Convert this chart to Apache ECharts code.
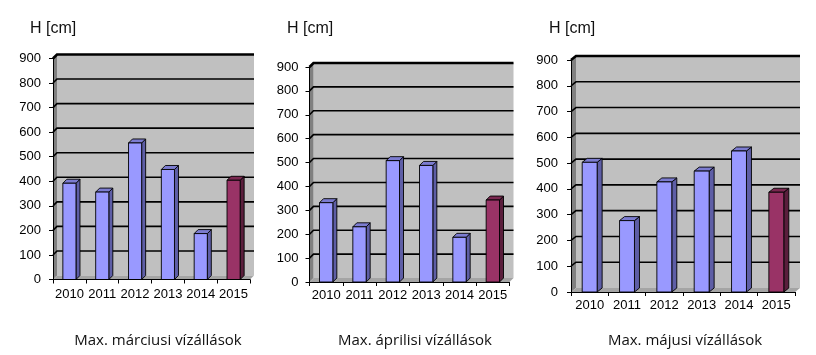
<!DOCTYPE html>
<html>
<head>
<meta charset="utf-8">
<script src="https://cdn.jsdelivr.net/npm/echarts@6/dist/echarts.min.js"></script>
<style>
html,body{margin:0;padding:0;background:#fff;}
#c{width:816px;height:355px;}
</style>
</head>
<body>
<div id="c"></div>
<script>
const years = ['2010', '2011', '2012', '2013', '2014', '2015'];
const marchValues = [392, 356, 556, 448, 187, 404];
const aprilValues = [332, 231, 508, 488, 187, 343];
const mayValues = [503, 277, 427, 469, 547, 387];
const yTicks = [0, 100, 200, 300, 400, 500, 600, 700, 800, 900];
const captions = ['Max. márciusi vízállások', 'Max. áprilisi vízállások', 'Max. májusi vízállások'];
const unitLabel = 'H [cm]';
const highlightIndex = 5;

const panels = [
  {values: marchValues, grid: {left: 53, top: 58.5, width: 197, height: 221}, depth: [4, -4], yMargin: 12, xMargin: 8, unitX: 25, capX: 153},
  {values: aprilValues, grid: {left: 309.5, top: 67, width: 200, height: 215}, depth: [4, -4], yMargin: 11, xMargin: 7, unitX: 282, capX: 410},
  {values: mayValues, grid: {left: 571, top: 60, width: 224, height: 232}, depth: [5, -4], yMargin: 13, xMargin: 7, unitX: 544, capX: 680}
];

const FONT = '"Liberation Sans", Arial, sans-serif';

function wallRender(depth) {
  return function (params, api) {
    const cs = params.coordSys;
    const L = cs.x, R = cs.x + cs.width, T = cs.y, B = cs.y + cs.height;
    const dx = depth[0], dy = depth[1];
    const children = [
      {type: 'polygon', shape: {points: [[L + dx, T + dy], [R + dx, T + dy], [R + dx, B + dy], [L + dx, B + dy]]}, style: {fill: '#c0c0c0'}},
      {type: 'polygon', shape: {points: [[L, T], [L + dx, T + dy], [L + dx, B + dy], [L, B]]}, style: {fill: '#808080'}},
      {type: 'polygon', shape: {points: [[L, B], [R, B], [R + dx, B + dy], [L + dx, B + dy]]}, style: {fill: '#a4a4a4'}}
    ];
    yTicks.forEach(function (v) {
      if (v === 0) return;
      const y = api.coord([0, v])[1];
      const top = v === yTicks[yTicks.length - 1];
      children.push({type: 'polyline', shape: {points: [[L, y], [L + dx, y + dy], [R + dx, y + dy]]},
        style: {stroke: '#000', lineWidth: top ? 2.6 : 1.6, fill: null}});
    });
    return {type: 'group', children: children};
  };
}

function barRender(depth) {
  return function (params, api) {
    const dx = depth[0], dy = depth[1];
    const top = api.coord([api.value(0), api.value(1)]);
    const base = api.coord([api.value(0), 0]);
    const w = api.size([1, 0])[0] * 0.4;
    const l = top[0] - w / 2, r = top[0] + w / 2;
    const yt = top[1], yb = base[1];
    const hi = params.dataIndex === highlightIndex;
    const front = hi ? '#993366' : '#9999ff';
    const side = hi ? '#5a1e3c' : '#5e5ea6';
    const cap = hi ? '#7a2850' : '#7c7cd0';
    const st = {stroke: '#000', lineWidth: 0.9};
    return {type: 'group', children: [
      {type: 'polygon', shape: {points: [[r, yt], [r + dx, yt + dy], [r + dx, yb + dy], [r, yb]]}, style: Object.assign({fill: side}, st)},
      {type: 'polygon', shape: {points: [[l, yt], [l + dx, yt + dy], [r + dx, yt + dy], [r, yt]]}, style: Object.assign({fill: cap}, st)},
      {type: 'rect', shape: {x: l, y: yt, width: w, height: yb - yt}, style: Object.assign({fill: front}, st)}
    ]};
  };
}

const option = {
  animation: false,
  backgroundColor: '#fff',
  title: [],
  grid: [],
  xAxis: [],
  yAxis: [],
  series: []
};

panels.forEach(function (p, i) {
  option.grid.push(Object.assign({containLabel: false}, p.grid));
  option.xAxis.push({
    type: 'category', gridIndex: i, data: years, boundaryGap: true, z: 6,
    axisLine: {show: true, lineStyle: {color: '#000', width: 1}},
    axisTick: {show: true, length: 4, lineStyle: {color: '#000'}},
    axisLabel: {color: '#000', fontSize: 13, fontFamily: FONT, margin: p.xMargin, interval: 0},
    splitLine: {show: false}
  });
  option.yAxis.push({
    type: 'value', gridIndex: i, min: 0, max: 900, interval: 100, z: 6,
    axisLine: {show: true, lineStyle: {color: '#000', width: 1}},
    axisTick: {show: true, length: 4, lineStyle: {color: '#000'}},
    axisLabel: {color: '#000', fontSize: 13, fontFamily: FONT, margin: p.yMargin},
    splitLine: {show: false}
  });
  option.series.push({
    type: 'custom', xAxisIndex: i, yAxisIndex: i, z: 1, silent: true,
    renderItem: wallRender(p.depth), data: [[0, 0]], clip: false
  });
  option.series.push({
    type: 'custom', xAxisIndex: i, yAxisIndex: i, z: 3, silent: true,
    renderItem: barRender(p.depth),
    data: p.values.map(function (v, k) { return [k, v]; }), clip: false
  });
  option.title.push({
    text: unitLabel, left: p.unitX, top: 16,
    textStyle: {fontSize: 16, fontWeight: 'normal', color: '#111', fontFamily: FONT}
  });
  option.title.push({
    text: captions[i], left: p.capX, top: 328, textAlign: 'center',
    textStyle: {fontSize: 15, fontWeight: 'normal', color: '#111', fontFamily: '"Open Sans", sans-serif'}
  });
});

const chart = echarts.init(document.getElementById('c'), null, {renderer: 'canvas'});
chart.setOption(option);
</script>
</body>
</html>
